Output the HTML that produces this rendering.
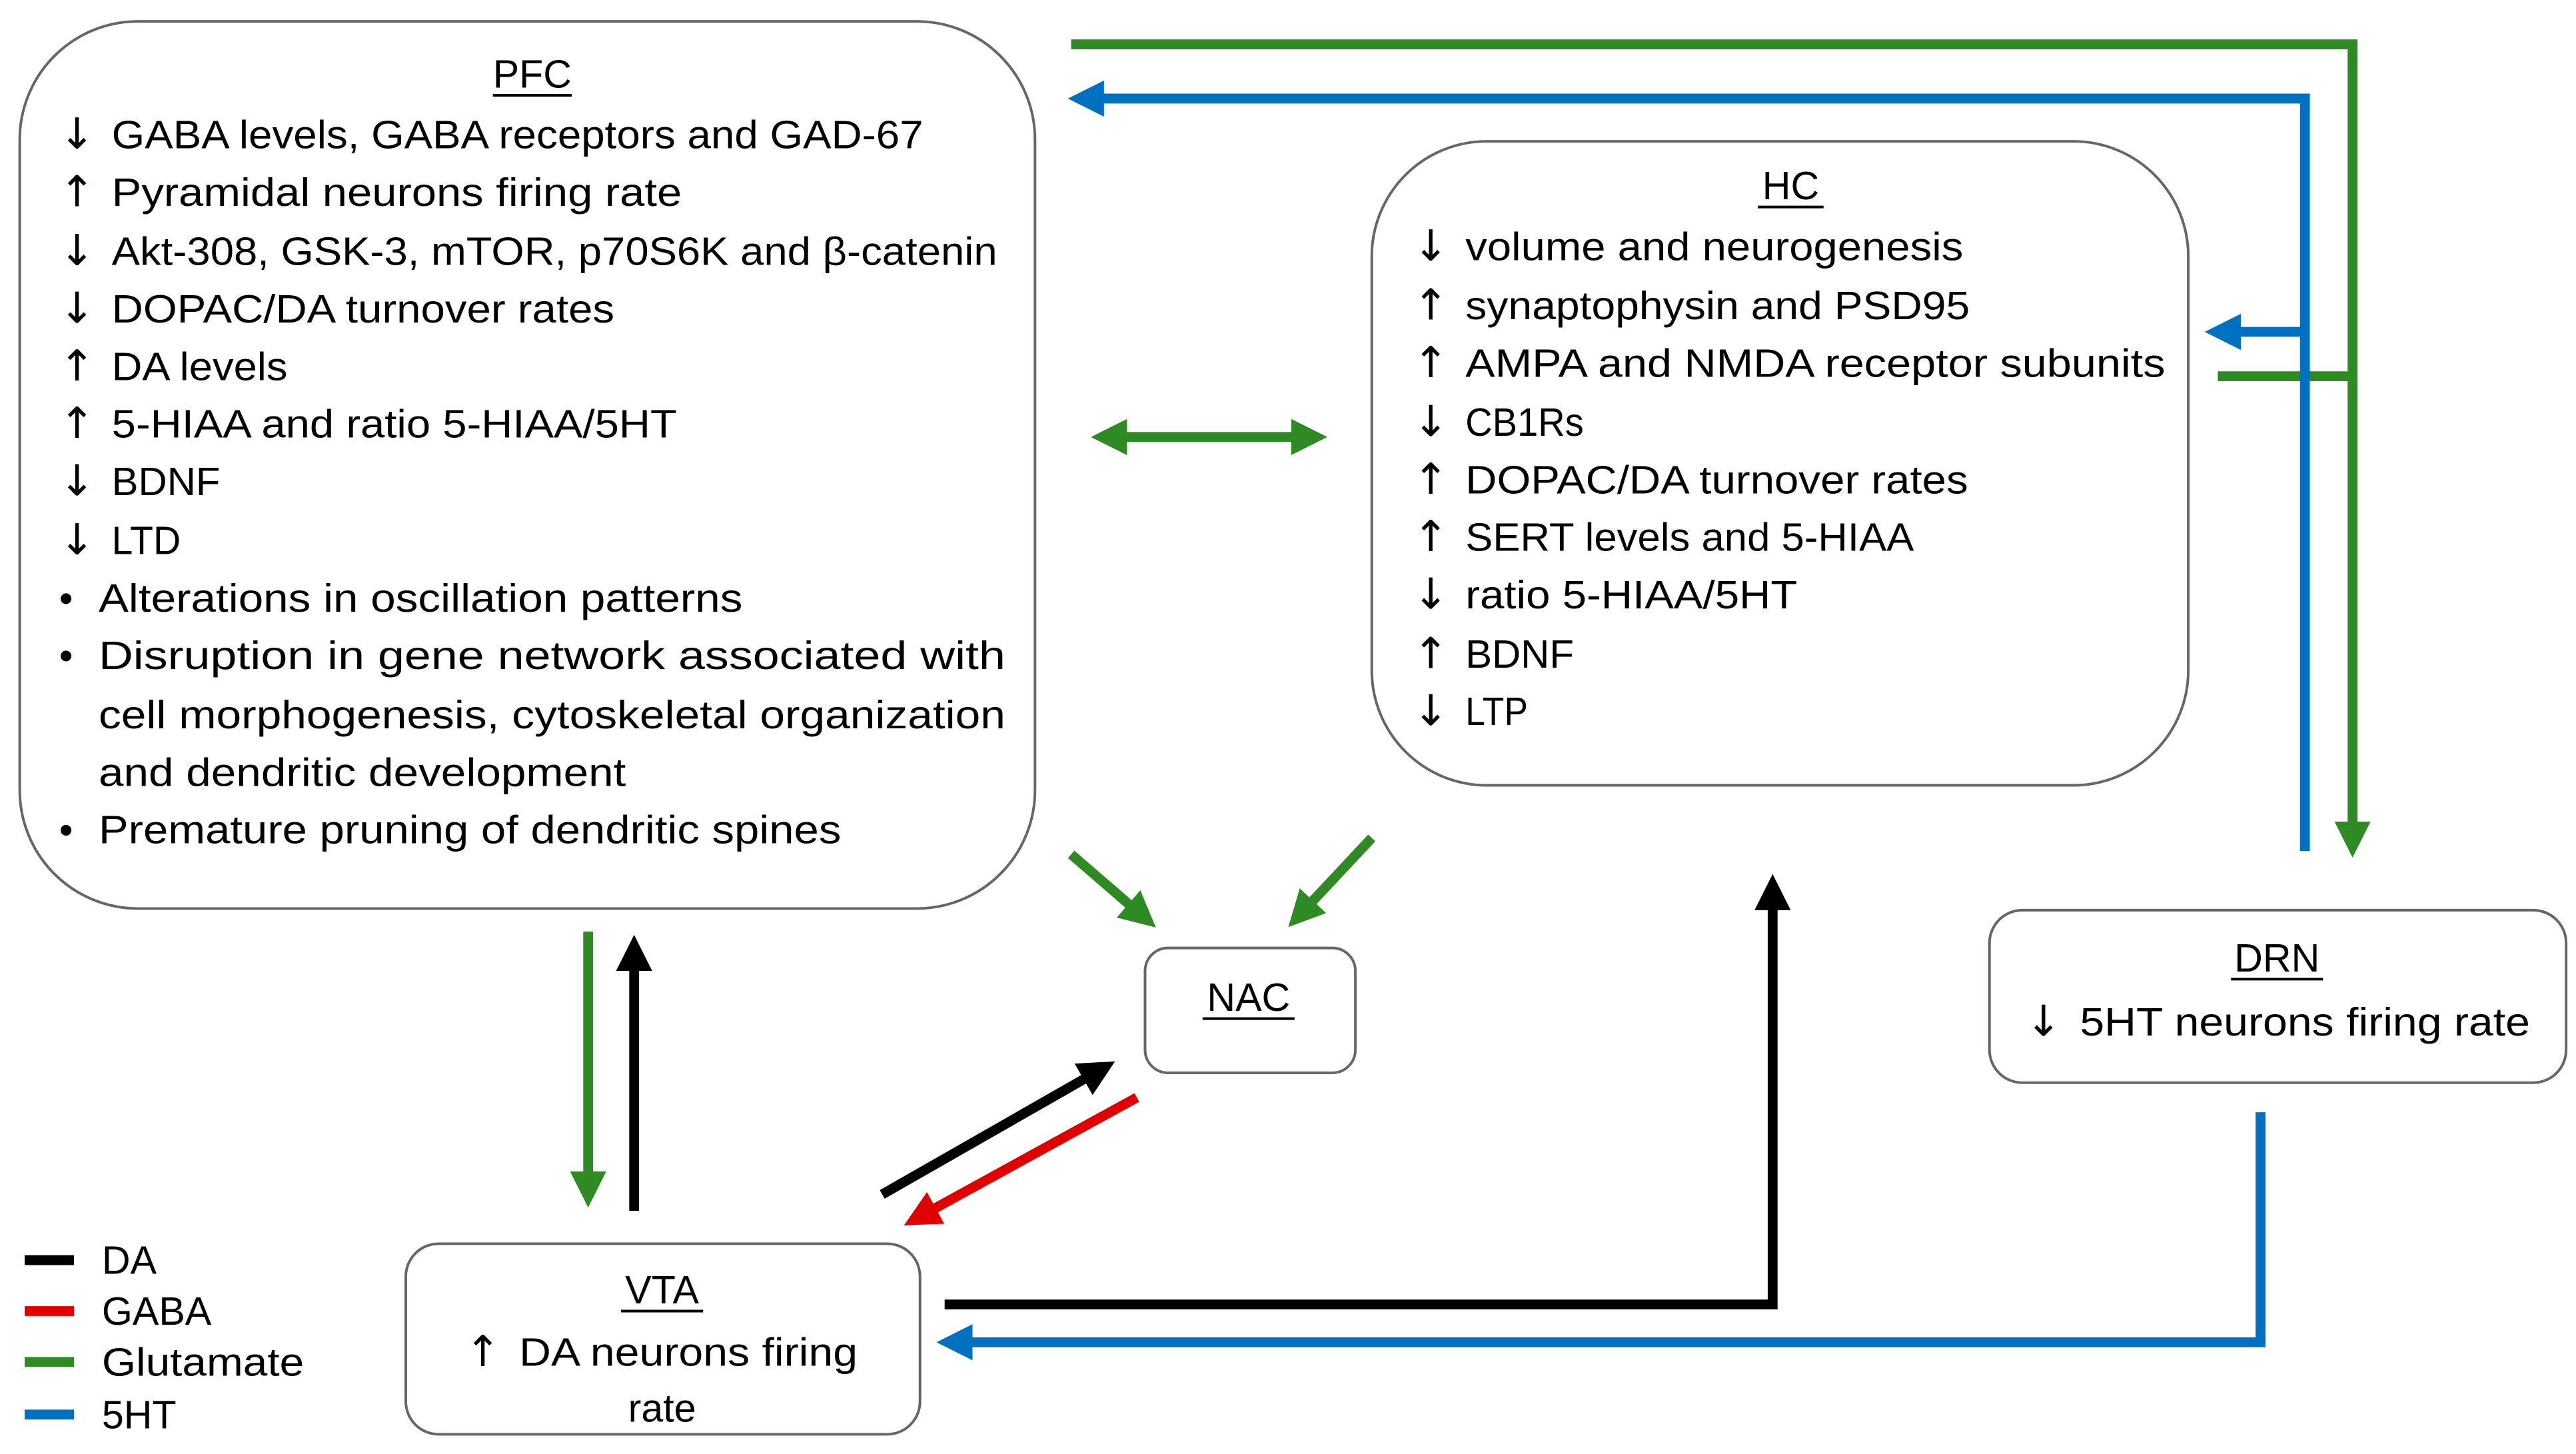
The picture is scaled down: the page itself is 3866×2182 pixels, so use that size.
<!DOCTYPE html>
<html><head><meta charset="utf-8"><style>html,body{margin:0;padding:0;background:#fff}svg{display:block}</style></head><body>
<svg width="3866" height="2182" viewBox="0 0 1568 885" xmlns="http://www.w3.org/2000/svg" font-family="Liberation Sans, DejaVu Sans, sans-serif" font-size="24" fill="#000">
<defs>
<marker id="g" markerUnits="userSpaceOnUse" markerWidth="22" markerHeight="22" refX="12" refY="11" orient="auto-start-reverse"><path d="M0,0 L22,11 L0,22 z" fill="#2e8b24"/></marker>
<marker id="b" markerUnits="userSpaceOnUse" markerWidth="22" markerHeight="22" refX="12" refY="11" orient="auto"><path d="M0,0 L22,11 L0,22 z" fill="#0070c0"/></marker>
<marker id="k" markerUnits="userSpaceOnUse" markerWidth="22" markerHeight="22" refX="12" refY="11" orient="auto"><path d="M0,0 L22,11 L0,22 z" fill="#000"/></marker>
<marker id="r" markerUnits="userSpaceOnUse" markerWidth="22" markerHeight="22" refX="12" refY="11" orient="auto"><path d="M0,0 L22,11 L0,22 z" fill="#e00000"/></marker>
</defs>
<g fill="#fff" stroke="#666" stroke-width="1.6">
<rect x="12" y="13" width="618" height="540" rx="72"/>
<rect x="835" y="86" width="497" height="392" rx="70"/>
<rect x="697" y="577" width="128" height="76" rx="14"/>
<rect x="1211" y="554" width="351" height="105" rx="20"/>
<rect x="247" y="757" width="313" height="116" rx="20"/>
</g>
<g fill="none" stroke-width="6">
<polyline points="652,27 1432,27 1432,512" stroke="#2e8b24" marker-end="url(#g)"/>
<line x1="1350" y1="229" x2="1432" y2="229" stroke="#2e8b24"/>
<polyline points="1403,518 1403,60 660,60" stroke="#0070c0" marker-end="url(#b)"/>
<line x1="1403" y1="202" x2="1352" y2="202" stroke="#0070c0" marker-end="url(#b)"/>
<line x1="674" y1="266" x2="798" y2="266" stroke="#2e8b24" marker-start="url(#g)" marker-end="url(#g)"/>
<line x1="652" y1="520" x2="696" y2="558" stroke="#2e8b24" marker-end="url(#g)"/>
<line x1="835" y1="510" x2="791" y2="557" stroke="#2e8b24" marker-end="url(#g)"/>
<line x1="358" y1="567" x2="358" y2="725" stroke="#2e8b24" marker-end="url(#g)"/>
<line x1="386" y1="737" x2="386" y2="579" stroke="#000" marker-end="url(#k)"/>
<line x1="537" y1="727" x2="670" y2="651" stroke="#000" marker-end="url(#k)"/>
<line x1="692" y1="668" x2="559" y2="741" stroke="#e00000" marker-end="url(#r)"/>
<polyline points="575,794 1079,794 1079,542" stroke="#000" marker-end="url(#k)"/>
<polyline points="1376,677 1376,817 580,817" stroke="#0070c0" marker-end="url(#b)"/>
<line x1="15" y1="767" x2="45" y2="767" stroke="#000"/>
<line x1="15" y1="798" x2="45" y2="798" stroke="#e00000"/>
<line x1="15" y1="829" x2="45" y2="829" stroke="#2e8b24"/>
<line x1="15" y1="861" x2="45" y2="861" stroke="#0070c0"/>
</g>
<g dominant-baseline="central">
<text x="324" y="45" text-anchor="middle">PFC</text>
<line x1="300" y1="58" x2="348" y2="58" stroke="#000" stroke-width="1.6"/>
<g font-family="DejaVu Sans, sans-serif" font-size="26">
<text x="36" y="82">↓</text><text x="36" y="117">↑</text><text x="36" y="153">↓</text><text x="36" y="188">↓</text>
<text x="36" y="223">↑</text><text x="36" y="258">↑</text><text x="36" y="293">↓</text><text x="36" y="329">↓</text>
</g>
<g font-size="24"><text x="36" y="364">•</text><text x="36" y="399">•</text><text x="36" y="505">•</text></g>
<text x="68" y="82" textLength="494" lengthAdjust="spacingAndGlyphs">GABA levels, GABA receptors and GAD-67</text>
<text x="68" y="117" textLength="347" lengthAdjust="spacingAndGlyphs">Pyramidal neurons firing rate</text>
<text x="68" y="153" textLength="539" lengthAdjust="spacingAndGlyphs">Akt-308, GSK-3, mTOR, p70S6K and β-catenin</text>
<text x="68" y="188" textLength="306" lengthAdjust="spacingAndGlyphs">DOPAC/DA turnover rates</text>
<text x="68" y="223" textLength="107" lengthAdjust="spacingAndGlyphs">DA levels</text>
<text x="68" y="258" textLength="344" lengthAdjust="spacingAndGlyphs">5-HIAA and ratio 5-HIAA/5HT</text>
<text x="68" y="293" textLength="66" lengthAdjust="spacingAndGlyphs">BDNF</text>
<text x="68" y="329" textLength="42" lengthAdjust="spacingAndGlyphs">LTD</text>
<text x="60" y="364" textLength="392" lengthAdjust="spacingAndGlyphs">Alterations in oscillation patterns</text>
<text x="60" y="399" textLength="552" lengthAdjust="spacingAndGlyphs">Disruption in gene network associated with</text>
<text x="60" y="435" textLength="552" lengthAdjust="spacingAndGlyphs">cell morphogenesis, cytoskeletal organization</text>
<text x="60" y="470" textLength="321" lengthAdjust="spacingAndGlyphs">and dendritic development</text>
<text x="60" y="505" textLength="452" lengthAdjust="spacingAndGlyphs">Premature pruning of dendritic spines</text>

<text x="1090" y="113" text-anchor="middle">HC</text>
<line x1="1070" y1="126" x2="1110" y2="126" stroke="#000" stroke-width="1.6"/>
<g font-family="DejaVu Sans, sans-serif" font-size="26">
<text x="860" y="150">↓</text><text x="860" y="186">↑</text><text x="860" y="221">↑</text><text x="860" y="257">↓</text>
<text x="860" y="292">↑</text><text x="860" y="327">↑</text><text x="860" y="362">↓</text><text x="860" y="398">↑</text><text x="860" y="433">↓</text>
</g>
<text x="892" y="150" textLength="303" lengthAdjust="spacingAndGlyphs">volume and neurogenesis</text>
<text x="892" y="186" textLength="307" lengthAdjust="spacingAndGlyphs">synaptophysin and PSD95</text>
<text x="892" y="221" textLength="426" lengthAdjust="spacingAndGlyphs">AMPA and NMDA receptor subunits</text>
<text x="892" y="257" textLength="72" lengthAdjust="spacingAndGlyphs">CB1Rs</text>
<text x="892" y="292" textLength="306" lengthAdjust="spacingAndGlyphs">DOPAC/DA turnover rates</text>
<text x="892" y="327" textLength="273" lengthAdjust="spacingAndGlyphs">SERT levels and 5-HIAA</text>
<text x="892" y="362" textLength="202" lengthAdjust="spacingAndGlyphs">ratio 5-HIAA/5HT</text>
<text x="892" y="398" textLength="66" lengthAdjust="spacingAndGlyphs">BDNF</text>
<text x="892" y="433" textLength="38" lengthAdjust="spacingAndGlyphs">LTP</text>

<text x="760" y="607" text-anchor="middle">NAC</text>
<line x1="732" y1="620" x2="788" y2="620" stroke="#000" stroke-width="1.6"/>

<text x="1386" y="583" text-anchor="middle">DRN</text>
<line x1="1358" y1="596" x2="1414" y2="596" stroke="#000" stroke-width="1.6"/>
<text x="1233" y="622" font-family="DejaVu Sans, sans-serif" font-size="26">↓</text>
<text x="1266" y="622" textLength="274" lengthAdjust="spacingAndGlyphs">5HT neurons firing rate</text>

<text x="403" y="785" text-anchor="middle">VTA</text>
<line x1="378" y1="798" x2="428" y2="798" stroke="#000" stroke-width="1.6"/>
<text x="283" y="823" font-family="DejaVu Sans, sans-serif" font-size="26">↑</text>
<text x="316" y="823" textLength="206" lengthAdjust="spacingAndGlyphs">DA neurons firing</text>
<text x="403" y="857" text-anchor="middle">rate</text>

<text x="62" y="767">DA</text>
<text x="62" y="798">GABA</text>
<text x="62" y="829" textLength="123" lengthAdjust="spacingAndGlyphs">Glutamate</text>
<text x="62" y="861">5HT</text>
</g>
</svg>
</body></html>
